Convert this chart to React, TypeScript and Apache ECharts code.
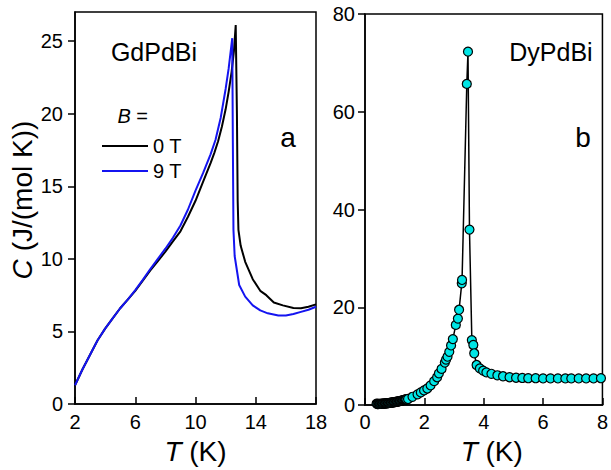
import React, { useEffect, useRef } from 'react';
import * as echarts from 'echarts';

// GdPdBi, B = 0 T
const gdT0 = [2, 2.5, 3, 3.5, 4, 4.5, 5, 5.5, 6, 6.5, 7, 7.5, 8, 8.5, 9, 9.5, 10, 10.5, 11, 11.25, 11.5, 11.75, 12, 12.2, 12.4, 12.55, 12.67, 12.75, 12.8, 12.85, 13.0, 13.3, 13.8, 14.3, 14.7, 15.2, 15.8, 16.5, 17, 17.5, 18];
const gdC0 = [1.3, 2.4, 3.4, 4.4, 5.2, 5.9, 6.6, 7.2, 7.8, 8.5, 9.2, 9.85, 10.5, 11.2, 11.9, 12.9, 14.0, 15.3, 16.6, 17.3, 18.1, 19.1, 20.3, 21.5, 22.9, 24.3, 26.1, 20.0, 14.0, 12.0, 10.9, 9.8, 8.6, 7.8, 7.5, 7.0, 6.8, 6.62, 6.6, 6.7, 6.87];
// GdPdBi, B = 9 T
const gdT9 = [2, 2.5, 3, 3.5, 4, 4.5, 5, 5.5, 6, 6.5, 7, 7.5, 8, 8.5, 9, 9.5, 10, 10.5, 11, 11.33, 11.67, 12, 12.2, 12.44, 12.48, 12.52, 12.6, 12.9, 13.3, 13.8, 14.3, 14.8, 15.5, 16, 16.5, 17, 17.5, 18];
const gdC9 = [1.3, 2.4, 3.4, 4.4, 5.2, 5.9, 6.6, 7.2, 7.85, 8.55, 9.3, 10.0, 10.7, 11.45, 12.3, 13.4, 14.7, 15.9, 17.2, 18.2, 19.7, 21.7, 23.1, 25.2, 18.0, 12.0, 10.2, 8.2, 7.4, 6.8, 6.45, 6.25, 6.1, 6.1, 6.2, 6.35, 6.5, 6.7];
// DyPdBi
const dyT = [0.39,
  0.42, 0.445, 0.47, 0.495, 0.52, 0.545, 0.57, 0.595, 0.62, 0.645, 0.67, 0.695, 0.72, 0.745, 0.77, 0.795, 0.82, 0.845, 0.87, 0.895,
  0.92, 0.945, 0.97, 0.995, 1.02, 1.045, 1.07, 1.095, 1.12, 1.145, 1.17, 1.195, 1.22, 1.245, 1.27, 1.295, 1.32, 1.345, 1.37, 1.395,
  1.45, 1.6, 1.77, 1.88, 1.99, 2.1, 2.21, 2.33, 2.43, 2.49, 2.58, 2.69, 2.73, 2.78, 2.84, 2.9, 2.96, 3.06, 3.13, 3.17, 3.26, 3.27,
  3.43, 3.47, 3.52, 3.6, 3.65, 3.68, 3.76, 3.87, 3.98, 4.09, 4.26, 4.46, 4.65, 4.87, 5.09, 5.3, 5.5, 5.75, 6.0, 6.25, 6.5, 6.75,
  6.95, 7.2, 7.45, 7.7, 7.95];
const dyC = [0.3,
  0.22, 0.23, 0.24, 0.25, 0.26, 0.27, 0.28, 0.29, 0.3, 0.32, 0.33, 0.35, 0.37, 0.38, 0.4, 0.42, 0.44, 0.46, 0.48, 0.5,
  0.53, 0.55, 0.58, 0.6, 0.63, 0.66, 0.69, 0.72, 0.75, 0.78, 0.82, 0.85, 0.89, 0.93, 0.97, 1.01, 1.05, 1.1, 1.14, 1.19,
  1.25, 1.7, 2.2, 2.6, 3.0, 3.4, 4.05, 4.9, 5.7, 6.5, 7.4, 8.7, 9.3, 9.9, 10.9, 12.2, 13.5, 16.4, 17.7, 19.5, 24.9, 25.6,
  65.7, 72.3, 35.9, 13.3, 12.3, 10.6, 8.2, 7.5, 7.05, 6.7, 6.4, 6.1, 5.9, 5.7, 5.6, 5.55, 5.5, 5.5, 5.45, 5.45, 5.45, 5.45,
  5.45, 5.45, 5.45, 5.45, 5.5];

const gdXTicks = [2, 6, 10, 14, 18];
const gdYTicks = [0, 5, 10, 15, 20, 25];
const dyXTicks = [0, 2, 4, 6, 8];
const dyYTicks = [0, 20, 40, 60, 80];

const FONT = '"Liberation Sans", Arial, sans-serif';
const AX = '#000';

const zip = (a: number[], b: number[]) => a.map((v, i) => [v, b[i]]);

export default function App() {
  const ref = useRef<HTMLDivElement>(null);
  useEffect(() => {
    if (!ref.current) return;
    const chart = echarts.init(ref.current, undefined, { renderer: 'svg' });
    const axisLine = { show: true, onZero: false, lineStyle: { color: AX, width: 1.5 } };
    const label = (vals: number[], margin: number) => ({
      customValues: vals, fontSize: 20, color: '#000', fontFamily: FONT, margin,
    });
    const nameStyle = {
      fontSize: 28, color: '#000', fontFamily: FONT,
      rich: { i: { fontSize: 28, fontStyle: 'italic', fontFamily: FONT, color: '#000' } },
    };
    chart.setOption({
      animation: false,
      backgroundColor: '#fff',
      grid: [
        { left: 75, top: 12, width: 241, height: 394, show: true, borderColor: AX, borderWidth: 1.5, backgroundColor: 'transparent' },
        { left: 365, top: 14, width: 241, height: 395, show: true, borderColor: AX, borderWidth: 1.5, backgroundColor: 'transparent' },
      ],
      xAxis: [
        {
          type: 'value', gridIndex: 0, min: 2, max: 18, axisLine,
          axisTick: { inside: true, length: 7, customValues: gdXTicks, lineStyle: { color: AX, width: 1.5 } },
          axisLabel: label(gdXTicks, 8), splitLine: { show: false },
          name: '{i|T} (K)', nameLocation: 'middle', nameGap: 27, nameTextStyle: nameStyle,
        },
        {
          type: 'value', gridIndex: 1, min: 0, max: 8, axisLine,
          axisTick: { inside: true, length: 7, customValues: dyXTicks, lineStyle: { color: AX, width: 1.5 } },
          axisLabel: label(dyXTicks, 7), splitLine: { show: false },
          name: '{i|T} (K)', nameLocation: 'middle', nameGap: 19,
          nameTextStyle: { ...nameStyle, padding: [0, 0, 0, 16] },
        },
      ],
      yAxis: [
        {
          type: 'value', gridIndex: 0, min: 0, max: 27, axisLine,
          axisTick: { inside: false, length: 7, customValues: gdYTicks, lineStyle: { color: AX, width: 1.5 } },
          axisLabel: label(gdYTicks, 12), splitLine: { show: false },
          name: '{i|C} (J/(mol K))', nameLocation: 'middle', nameGap: 35,
          nameTextStyle: { ...nameStyle, padding: [0, 0, 0, 16] },
        },
        {
          type: 'value', gridIndex: 1, min: 0, max: 80, axisLine,
          axisTick: { inside: false, length: 7, customValues: dyYTicks, lineStyle: { color: AX, width: 1.5 } },
          axisLabel: label(dyYTicks, 10), splitLine: { show: false },
        },
      ],
      legend: {
        data: ['0 T', '9 T'], orient: 'vertical', left: 97, top: 131,
        icon: 'rect', itemWidth: 46, itemHeight: 2, itemGap: 5, selectedMode: false,
        textStyle: { fontSize: 20, color: '#000', fontFamily: FONT, lineHeight: 20 },
      },
      graphic: [
        { type: 'text', x: 154, y: 52, style: { text: 'GdPdBi', fontSize: 25, fontFamily: FONT, fill: '#000', align: 'center', verticalAlign: 'middle' } },
        { type: 'text', x: 148, y: 116, style: { text: '{i|B} =', fontSize: 20, fontFamily: FONT, fill: '#000', align: 'right', verticalAlign: 'middle', rich: { i: { fontStyle: 'italic', fontSize: 20, fontFamily: FONT, fill: '#000' } } } },
        { type: 'text', x: 288, y: 137, style: { text: 'a', fontSize: 28, fontFamily: FONT, fill: '#000', align: 'center', verticalAlign: 'middle' } },
        { type: 'text', x: 551, y: 52, style: { text: 'DyPdBi', fontSize: 25, fontFamily: FONT, fill: '#000', align: 'center', verticalAlign: 'middle' } },
        { type: 'text', x: 583, y: 137, style: { text: 'b', fontSize: 28, fontFamily: FONT, fill: '#000', align: 'center', verticalAlign: 'middle' } },
      ],
      series: [
        {
          name: '0 T', type: 'line', xAxisIndex: 0, yAxisIndex: 0, data: zip(gdT0, gdC0),
          symbol: 'none', color: '#000', lineStyle: { color: '#000', width: 2 }, z: 3,
        },
        {
          name: '9 T', type: 'line', xAxisIndex: 0, yAxisIndex: 0, data: zip(gdT9, gdC9),
          symbol: 'none', color: '#1414f0', lineStyle: { color: '#1414f0', width: 2 }, z: 4,
        },
        {
          name: 'DyPdBi', type: 'line', xAxisIndex: 1, yAxisIndex: 1, data: zip(dyT, dyC),
          symbol: 'circle', symbolSize: 9, showAllSymbol: true,
          itemStyle: { color: '#00e6e6', borderColor: '#000', borderWidth: 1.2 },
          lineStyle: { color: '#000', width: 1.5 }, z: 3,
        },
      ],
    });
    return () => chart.dispose();
  }, []);
  return <div ref={ref} style={{ position: 'fixed', left: 0, top: 0, width: 611, height: 470 }} />;
}
